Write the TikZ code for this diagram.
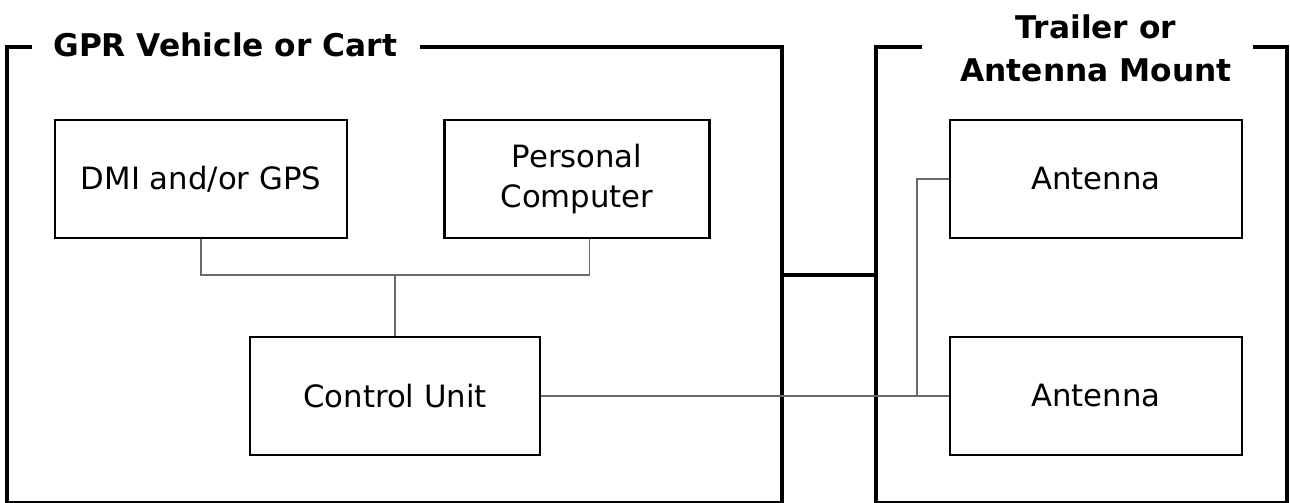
\documentclass[tikz,border=0pt]{standalone}
\usepackage{fontspec}
\setmainfont{DejaVu Sans}
\usetikzlibrary{calc,positioning}
\definecolor{wiregray}{RGB}{105,105,105}
\tikzstyle{unit} = [draw, line width=1.45pt, minimum width=5.84cm,
  minimum height=2.36cm, inner sep=0, align=center,
  font=\fontsize{17.5}{23}\selectfont]
\tikzstyle{title} = [inner sep=0, align=center, font=\fontsize{17.8}{24.4}\selectfont\bfseries]
\tikzstyle{frame} = [line width=2.8pt]
\tikzstyle{wire} = [line width=1.1pt, draw=wiregray]

\begin{document}
\begin{tikzpicture}[x=0.02cm, y=-0.02cm]
  \useasboundingbox (0,0) rectangle (1290,503);

  % vehicle side
  \node[title, anchor=west] (gprtitle) at (53,45) {GPR Vehicle or Cart};
  \draw[frame] (32,47) -| (7,503) -| (782,47) -- (420,47);

  \node[unit] (dmi) at (201,179) {DMI and/or GPS};
  \node[unit, minimum width=5.3cm, right = 1.9cm of dmi] (pc)
  {Personal\\Computer};
  \node[unit, minimum width=5.8cm] (ctrl) at (395,396) {Control Unit};

  \coordinate (hub) at (395,275);
  \draw[wire] (dmi.south) |- (hub) -| ($(pc.south)+(12.5,0)$);
  \draw[wire] (hub) -- (ctrl.north);

  % mount side
  \node[title] (mounttitle) at (1096,48) {Trailer or\\Antenna Mount};
  \draw[frame] (922,47) -| (876,503) -| (1287,47) -- (1253,47);

  \node[unit] (ant1) at (1096,179) {Antenna};
  \node[unit] (ant2) at (1096,396) {Antenna};

  \draw[frame] (782,275) -- (876,275);

  \coordinate (tap) at (917,396);
  \draw[wire] (ctrl.east) -- (ant2.west);
  \draw[wire] (tap) |- (ant1.west);

\end{tikzpicture}
\end{document}
